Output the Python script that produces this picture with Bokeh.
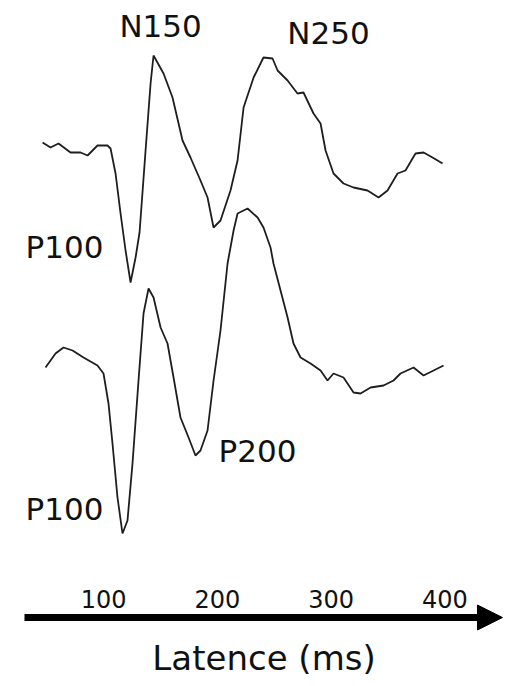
from bokeh.plotting import figure
from bokeh.models import Range1d, Arrow, NormalHead, ColumnDataSource
from bokeh.core.properties import value
from bokeh.embed import file_html
from bokeh.resources import INLINE

# ---- data (latency in ms, amplitude in µV, negative plotted upward) ----
top_latency = [46.2, 53.2, 60.2, 70.8, 79.6, 85.8, 94.5, 103.3, 106.0, 110.4, 114.8, 119.2,
               123.6, 128.0, 131.5, 136.8, 141.2, 143.8, 152.6, 160.5, 169.3, 176.3, 185.1,
               191.3, 196.6, 202.7, 211.5, 217.7, 223.0, 231.8, 240.5, 248.5, 252.9, 261.7,
               270.4, 275.7, 284.5, 290.7, 295.1, 302.1, 310.9, 319.7, 332.0, 341.7, 349.6,
               358.4, 365.4, 374.2, 381.3, 389.2, 398.0]
top_amplitude = [-0.6, -0.1, -0.5, 0.4, 0.4, 0.7, -0.3, -0.3, 0.0, 2.5, 6.5, 10.2,
                 13.4, 10.9, 8.4, 0.2, -6.5, -9.3, -7.5, -5.1, -0.8, 0.9, 3.2,
                 4.9, 7.9, 7.2, 4.2, 1.2, -4.1, -7.1, -9.1, -9.0, -7.8, -6.8,
                 -5.5, -5.6, -3.5, -2.5, 0.2, 2.5, 3.5, 3.9, 4.2, 4.9, 4.2,
                 2.5, 2.2, 0.5, 0.4, 0.9, 1.5]

bottom_latency = [48.8, 57.6, 64.6, 72.6, 82.2, 94.5, 99.8, 104.2, 107.7, 112.1, 116.5, 120.9,
                  125.3, 130.6, 135.0, 139.4, 143.8, 150.0, 156.1, 161.4, 167.5, 174.6, 180.7,
                  185.1, 191.3, 196.6, 202.7, 208.9, 214.2, 217.7, 226.5, 235.3, 240.5, 246.7,
                  249.3, 255.5, 261.7, 266.9, 273.1, 281.9, 290.7, 296.8, 302.1, 310.9, 319.7,
                  325.9, 334.7, 346.1, 354.9, 361.0, 372.5, 381.3, 390.1, 398.9]
bottom_amplitude = [1.2, -0.2, -0.8, -0.5, 0.2, 1.0, 1.8, 4.8, 8.8, 14.2, 17.8, 16.5,
                    10.8, 2.5, -4.2, -6.7, -5.8, -2.8, -1.2, 2.2, 6.2, 8.2, 10.0,
                    9.5, 7.5, 2.5, -2.5, -9.2, -12.5, -14.2, -14.7, -13.8, -12.8, -10.8,
                    -9.2, -6.5, -3.8, -1.2, 0.2, 0.8, 1.5, 2.5, 1.8, 2.2, 3.7,
                    3.8, 3.2, 3.0, 2.5, 1.8, 1.2, 2.0, 1.5, 1.0]

tick_values = [100, 200, 300, 400]
tick_labels = ["100", "200", "300", "400"]

peak_names = ["N150", "N250", "P100", "P200", "P100"]
peak_x = [150.0, 297.7, 31.2, 201.0, 31.2]
peak_y = [2.55, 3.25, 24.65, 45.0, 50.85]
peak_align = ["center", "center", "left", "left", "left"]

axis_title = "Latence (ms)"

# ---- layout constants ----
TOP_OFFSET = 14.8
BOTTOM_OFFSET = 35.5
AXIS_Y = 61.7
TICK_LABEL_Y = 59.85
TITLE_X = 241.0
TITLE_Y = 65.75

p = figure(width=513, height=686, output_backend="svg", toolbar_location=None,
           x_range=Range1d(9.2, 460.4), y_range=Range1d(68.6, 0.0),
           x_axis_location=None, y_axis_location=None, min_border=0,
           background_fill_color="white", border_fill_color="white")
p.grid.visible = False
p.outline_line_color = None

p.line(top_latency, [a + TOP_OFFSET for a in top_amplitude],
       line_color="#1e1e1e", line_width=1.8)
p.line(bottom_latency, [a + BOTTOM_OFFSET for a in bottom_amplitude],
       line_color="#1e1e1e", line_width=1.8)

src = ColumnDataSource(dict(x=peak_x, y=peak_y, t=peak_names, a=peak_align))
p.text(x="x", y="y", text="t", text_align="a", source=src,
       text_font=value("DejaVu Sans"), text_font_size="31px",
       text_color="#111111", text_baseline="middle")

p.text(x=tick_values, y=[TICK_LABEL_Y] * len(tick_values), text=tick_labels,
       text_align="center", text_baseline="middle",
       text_font=value("DejaVu Sans"), text_font_size="24px", text_color="#111111")

p.add_layout(Arrow(x_start=30.3, y_start=AXIS_Y, x_end=450.7, y_end=AXIS_Y,
                   line_width=7, line_color="black",
                   end=NormalHead(size=25, fill_color="black", line_color="black")))

p.text(x=[TITLE_X], y=[TITLE_Y], text=[axis_title], text_align="center",
       text_baseline="middle", text_font=value("DejaVu Sans"),
       text_font_size="34px", text_color="#111111")

open("out.html", "w").write(file_html(p, INLINE))
